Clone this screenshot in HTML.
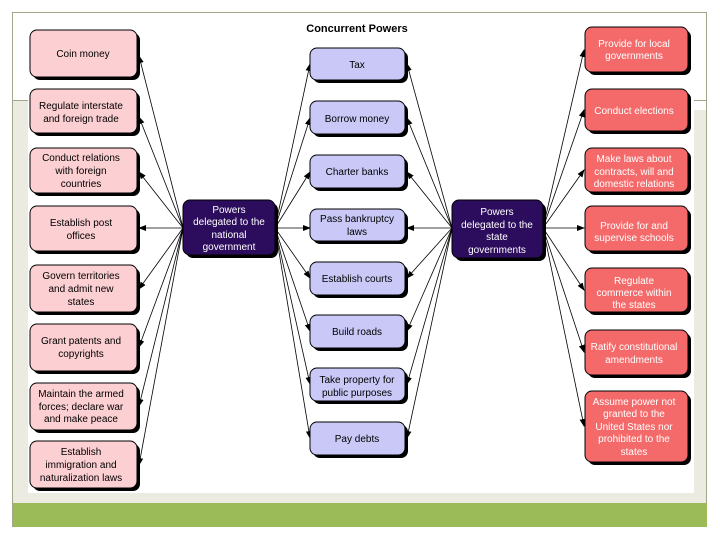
<!DOCTYPE html>
<html><head><style>
body{margin:0;background:#fff;}
svg{display:block;font-family:"Liberation Sans",sans-serif;}
</style></head><body>
<svg width="720" height="540" viewBox="0 0 720 540">
<defs>
<marker id="a" markerWidth="8" markerHeight="6" refX="7" refY="3" orient="auto" markerUnits="userSpaceOnUse"><path d="M0,0L8,3L0,6z" fill="#000"/></marker>
</defs>
<rect x="12.5" y="12.5" width="694" height="514" fill="#fff" stroke="#a5a58a"/>
<rect x="13" y="101" width="15" height="402" fill="#ecebe2"/>
<rect x="694" y="110" width="12" height="393" fill="#ecebe2"/>
<rect x="28" y="493" width="666" height="10" fill="#ecebe2"/>
<line x1="12" y1="100.5" x2="28" y2="100.5" stroke="#a5a58a"/>
<line x1="694" y1="100.5" x2="707" y2="100.5" stroke="#a5a58a"/>
<rect x="13" y="503" width="694" height="24" fill="#9bbb59"/>
<text x="357" y="32" font-size="11" font-weight="bold" text-anchor="middle">Concurrent Powers</text>
<g stroke="#000" stroke-width="0.8" marker-end="url(#a)">
<line x1="183" y1="228" x2="139" y2="56"/>
<line x1="183" y1="228" x2="139" y2="117"/>
<line x1="183" y1="228" x2="139" y2="172"/>
<line x1="183" y1="228" x2="139" y2="228"/>
<line x1="183" y1="228" x2="139" y2="289"/>
<line x1="183" y1="228" x2="139" y2="347"/>
<line x1="183" y1="228" x2="139" y2="406"/>
<line x1="183" y1="228" x2="139" y2="465"/>
<line x1="275" y1="228" x2="310" y2="64"/>
<line x1="275" y1="228" x2="310" y2="118"/>
<line x1="275" y1="228" x2="310" y2="172"/>
<line x1="275" y1="228" x2="310" y2="228"/>
<line x1="275" y1="228" x2="310" y2="278"/>
<line x1="275" y1="228" x2="310" y2="331"/>
<line x1="275" y1="228" x2="310" y2="384"/>
<line x1="275" y1="228" x2="310" y2="438"/>
<line x1="452" y1="228" x2="407" y2="64"/>
<line x1="452" y1="228" x2="407" y2="118"/>
<line x1="452" y1="228" x2="407" y2="172"/>
<line x1="452" y1="228" x2="407" y2="228"/>
<line x1="452" y1="228" x2="407" y2="278"/>
<line x1="452" y1="228" x2="407" y2="331"/>
<line x1="452" y1="228" x2="407" y2="384"/>
<line x1="452" y1="228" x2="407" y2="438"/>
<line x1="543" y1="228" x2="584" y2="50"/>
<line x1="543" y1="228" x2="584" y2="110"/>
<line x1="543" y1="228" x2="584" y2="170"/>
<line x1="543" y1="228" x2="584" y2="228"/>
<line x1="543" y1="228" x2="584" y2="290"/>
<line x1="543" y1="228" x2="584" y2="352"/>
<line x1="543" y1="228" x2="584" y2="426"/>
</g>
<g stroke="#000" stroke-width="1">
<!-- shadows -->
<g fill="#000" stroke="none">
<rect x="33" y="33" width="107" height="47" rx="7"/><rect x="33" y="92" width="107" height="44" rx="7"/><rect x="33" y="151" width="107" height="45" rx="7"/><rect x="33" y="209" width="107" height="45" rx="7"/><rect x="33" y="268" width="107" height="47" rx="7"/><rect x="33" y="327" width="107" height="47" rx="7"/><rect x="33" y="386" width="107" height="47" rx="7"/><rect x="33" y="444" width="107" height="47" rx="7"/>
<rect x="313" y="51" width="95" height="32" rx="7"/><rect x="313" y="104" width="95" height="33" rx="7"/><rect x="313" y="158" width="95" height="33" rx="7"/><rect x="313" y="212" width="95" height="32" rx="7"/><rect x="313" y="265" width="95" height="33" rx="7"/><rect x="313" y="318" width="95" height="33" rx="7"/><rect x="313" y="371" width="95" height="33" rx="7"/><rect x="313" y="425" width="95" height="33" rx="7"/>
<rect x="588" y="30" width="103" height="45" rx="7"/><rect x="588" y="92" width="103" height="42" rx="7"/><rect x="588" y="151" width="103" height="44" rx="7"/><rect x="588" y="209" width="103" height="45" rx="7"/><rect x="588" y="271" width="103" height="44" rx="7"/><rect x="588" y="333" width="103" height="45" rx="7"/><rect x="588" y="394" width="103" height="71" rx="7"/>
<rect x="186" y="203" width="92" height="55" rx="7"/><rect x="455" y="203" width="91" height="58" rx="7"/>
</g>
<g fill="#fccfd2">
<rect x="30" y="30" width="107" height="47" rx="7"/><rect x="30" y="89" width="107" height="44" rx="7"/><rect x="30" y="148" width="107" height="45" rx="7"/><rect x="30" y="206" width="107" height="45" rx="7"/><rect x="30" y="265" width="107" height="47" rx="7"/><rect x="30" y="324" width="107" height="47" rx="7"/><rect x="30" y="383" width="107" height="47" rx="7"/><rect x="30" y="441" width="107" height="47" rx="7"/>
</g>
<g fill="#c9c8f7">
<rect x="310" y="48" width="95" height="32" rx="7"/><rect x="310" y="101" width="95" height="33" rx="7"/><rect x="310" y="155" width="95" height="33" rx="7"/><rect x="310" y="209" width="95" height="32" rx="7"/><rect x="310" y="262" width="95" height="33" rx="7"/><rect x="310" y="315" width="95" height="33" rx="7"/><rect x="310" y="368" width="95" height="33" rx="7"/><rect x="310" y="422" width="95" height="33" rx="7"/>
</g>
<g fill="#f46a6a">
<rect x="585" y="27" width="103" height="45" rx="7"/><rect x="585" y="89" width="103" height="42" rx="7"/><rect x="585" y="148" width="103" height="44" rx="7"/><rect x="585" y="206" width="103" height="45" rx="7"/><rect x="585" y="268" width="103" height="44" rx="7"/><rect x="585" y="330" width="103" height="45" rx="7"/><rect x="585" y="391" width="103" height="71" rx="7"/>
</g>
<g fill="#2c0c5c">
<rect x="183" y="200" width="92" height="55" rx="7"/><rect x="452" y="200" width="91" height="58" rx="7"/>
</g>
</g>
<g font-size="10" text-anchor="middle" fill="#000">
<text x="83" y="57">Coin money</text>
<text x="81" y="109">Regulate interstate</text><text x="81" y="122">and foreign trade</text>
<text x="81" y="161">Conduct relations</text><text x="81" y="174">with foreign</text><text x="81" y="187">countries</text>
<text x="81" y="226">Establish post</text><text x="81" y="239">offices</text>
<text x="81" y="279">Govern territories</text><text x="81" y="292">and admit new</text><text x="81" y="305">states</text>
<text x="81" y="344">Grant patents and</text><text x="81" y="357">copyrights</text>
<text x="81" y="397">Maintain the armed</text><text x="81" y="410">forces; declare war</text><text x="81" y="422">and make peace</text>
<text x="81" y="455">Establish</text><text x="81" y="468">immigration and</text><text x="81" y="481">naturalization laws</text>
<text x="357" y="68">Tax</text>
<text x="357" y="122">Borrow money</text>
<text x="357" y="175">Charter banks</text>
<text x="357" y="222">Pass bankruptcy</text><text x="357" y="235">laws</text>
<text x="357" y="282">Establish courts</text>
<text x="357" y="335">Build roads</text>
<text x="357" y="383">Take property for</text><text x="357" y="396">public purposes</text>
<text x="357" y="442">Pay debts</text>
</g>
<g font-size="10" text-anchor="middle" fill="#fff">
<text x="229" y="213">Powers</text><text x="229" y="225">delegated to the</text><text x="229" y="238">national</text><text x="229" y="250">government</text>
<text x="497" y="215">Powers</text><text x="497" y="228">delegated to the</text><text x="497" y="240">state</text><text x="497" y="253">governments</text>
<text x="634" y="47">Provide for local</text><text x="634" y="59">governments</text>
<text x="634" y="114">Conduct elections</text>
<text x="634" y="162">Make laws about</text><text x="634" y="175">contracts, will and</text><text x="634" y="187">domestic relations</text>
<text x="634" y="229">Provide for and</text><text x="634" y="241">supervise schools</text>
<text x="634" y="284">Regulate</text><text x="634" y="296">commerce within</text><text x="634" y="308">the states</text>
<text x="634" y="350">Ratify constitutional</text><text x="634" y="363">amendments</text>
<text x="634" y="405">Assume power not</text><text x="634" y="417">granted to the</text><text x="634" y="430">United States nor</text><text x="634" y="442">prohibited to the</text><text x="634" y="455">states</text>
</g>
</svg>
</body></html>
